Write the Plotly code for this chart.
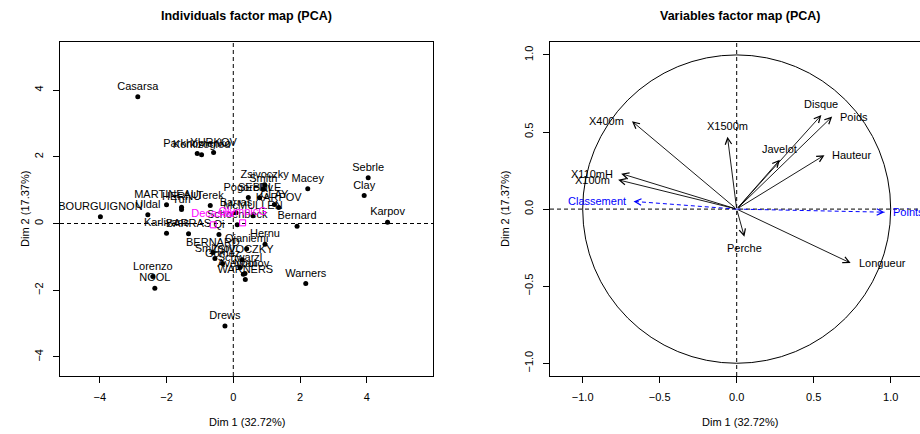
import plotly.graph_objects as go

# ---------------- data ----------------
ind_names = ["SEBRLE", "CLAY", "KARPOV", "BERNARD", "YURKOV", "WARNERS", "ZSIVOCZKY",
             "McMULLEN", "MARTINEAU", "HERNU", "BARRAS", "NOOL", "BOURGUIGNON",
             "Sebrle", "Clay", "Karpov", "Macey", "Warners", "Zsivoczky", "Hernu",
             "Nool", "Bernard", "Schwarzl", "Pogorelov", "Schoenbeck", "Barras", "Smith",
             "Averyanov", "Ojaniemi", "Smirnov", "Qi", "Drews", "Parkhomenko", "Terek",
             "Gomez", "Turi", "Lorenzo", "Karlivans", "Korkizoglou", "Uldal", "Casarsa"]
ind_dim1 = [0.79, 1.23, 1.36, -0.61, -0.59, 0.36, 0.27,
            0.59, -2.00, -1.55, -1.34, -2.35, -3.98,
            4.04, 3.92, 4.62, 2.23, 2.17, 0.94, 0.95,
            0.35, 1.91, 0.20, 0.45, 0.12, 0.08, 0.90,
            0.30, 0.40, -0.55, -0.43, -0.25, -1.08, -0.69,
            -0.32, -1.55, -2.41, -2.00, -0.95, -2.56, -2.86]
ind_dim2 = [0.77, 0.57, 0.48, -0.87, 2.13, -1.68, -1.09,
            0.23, 0.56, 0.49, -0.31, -1.94, 0.20,
            1.37, 0.84, 0.04, 1.04, -1.80, 1.16, -0.62,
            -1.50, -0.08, -1.32, 0.78, -0.04, 0.32, 1.03,
            -1.52, -0.76, -1.05, -0.33, -3.07, 2.10, 0.54,
            -1.20, 0.42, -1.59, -0.29, 2.06, 0.26, 3.80]

quali_names = ["Decastar", "OlympicG"]
quali_dim1 = [-0.60, 0.28]
quali_dim2 = [-0.04, 0.02]

var_names = ["X100m", "Longueur", "Poids", "Hauteur", "X400m", "X110mH",
             "Disque", "Perche", "Javelot", "X1500m"]
var_dim1 = [-0.77, 0.74, 0.62, 0.57, -0.68, -0.75, 0.55, 0.05, 0.28, -0.06]
var_dim2 = [0.19, -0.35, 0.60, 0.35, 0.57, 0.23, 0.61, -0.18, 0.32, 0.47]

sup_names = ["Classement", "Points"]
sup_dim1 = [-0.67, 0.96]
sup_dim2 = [0.05, -0.02]

x_ticks_ind = [-4, -2, 0, 2, 4]
y_ticks_ind = [-4, -2, 0, 2, 4]
ticks_var = [-1.0, -0.5, 0.0, 0.5, 1.0]

titles = ["Individuals factor map (PCA)", "Variables factor map (PCA)"]
xlab = "Dim 1 (32.72%)"
ylab = "Dim 2 (17.37%)"

# ---------------- layout helpers ----------------
W, H = 920, 434
FONT = "Liberation Sans, Arial, Helvetica, sans-serif"


def fx(p):
    return p / W


def fy(p):
    return 1 - p / H


def tick_text(vals, fmt):
    return [fmt.format(v).replace("-", "\u2212") for v in vals]


fig = go.Figure()

# individuals
fig.add_trace(go.Scatter(
    x=ind_dim1, y=ind_dim2, text=ind_names, mode="markers+text",
    textposition="top center",
    marker=dict(color="black", size=5),
    textfont=dict(family=FONT, size=11, color="black"),
    xaxis="x", yaxis="y", showlegend=False, hoverinfo="skip"))

# qualitative supplementary
fig.add_trace(go.Scatter(
    x=quali_dim1, y=quali_dim2, text=quali_names, mode="markers+text",
    textposition="top center",
    marker=dict(color="#FF00FF", size=6, symbol="square-open", line=dict(width=1, color="#FF00FF")),
    textfont=dict(family=FONT, size=11, color="#FF00FF"),
    xaxis="x", yaxis="y", showlegend=False, hoverinfo="skip"))

# supplementary variable dashed shafts
for n, x, y in zip(sup_names, sup_dim1, sup_dim2):
    fig.add_trace(go.Scatter(
        x=[0, x], y=[0, y], mode="lines",
        line=dict(color="#0000FF", width=1, dash="4px,3px"),
        xaxis="x2", yaxis="y2", showlegend=False, hoverinfo="skip"))

annotations = []
shapes = []

# active variable arrows
for n, x, y in zip(var_names, var_dim1, var_dim2):
    annotations.append(dict(
        x=x, y=y, ax=0, ay=0, xref="x2", yref="y2", axref="x2", ayref="y2",
        text="", showarrow=True, arrowhead=5, arrowsize=1.4, arrowwidth=0.9,
        arrowcolor="black", standoff=0, startstandoff=0))

# supplementary arrow heads
for n, x, y in zip(sup_names, sup_dim1, sup_dim2):
    annotations.append(dict(
        x=x, y=y, ax=x * 0.96, ay=y * 0.96, xref="x2", yref="y2", axref="x2", ayref="y2",
        text="", showarrow=True, arrowhead=5, arrowsize=1.4, arrowwidth=0.9,
        arrowcolor="#0000FF", standoff=0, startstandoff=0))


def var_label(n, x, y, color):
    d = dict(x=x, y=y, xref="x2", yref="y2", text=n, showarrow=False,
             font=dict(family=FONT, size=11, color=color))
    if abs(x) >= abs(y):
        if x < 0:
            d.update(xanchor="right", yanchor="middle", xshift=-6)
        else:
            d.update(xanchor="left", yanchor="middle", xshift=6)
    else:
        if y > 0:
            d.update(xanchor="center", yanchor="bottom", yshift=3)
        else:
            d.update(xanchor="center", yanchor="top", yshift=-3)
    return d


for n, x, y in zip(var_names, var_dim1, var_dim2):
    annotations.append(var_label(n, x, y, "black"))
for n, x, y in zip(sup_names, sup_dim1, sup_dim2):
    annotations.append(var_label(n, x, y, "#0000FF"))

# titles and axis labels
left_cx = fx((60 + 433.3) / 2)
right_cx = fx(740)
annotations += [
    dict(x=left_cx, y=fy(16), xref="paper", yref="paper", text="<b>%s</b>" % titles[0],
         showarrow=False, xanchor="center", yanchor="middle",
         font=dict(family=FONT, size=12.5, color="black")),
    dict(x=right_cx, y=fy(16), xref="paper", yref="paper", text="<b>%s</b>" % titles[1],
         showarrow=False, xanchor="center", yanchor="middle",
         font=dict(family=FONT, size=12.5, color="black")),
    dict(x=left_cx, y=fy(422), xref="paper", yref="paper", text=xlab,
         showarrow=False, xanchor="center", yanchor="middle",
         font=dict(family=FONT, size=11, color="black")),
    dict(x=right_cx, y=fy(422), xref="paper", yref="paper", text=xlab,
         showarrow=False, xanchor="center", yanchor="middle",
         font=dict(family=FONT, size=11, color="black")),
    dict(x=fx(25), y=fy(209), xref="paper", yref="paper", text=ylab, textangle=-90,
         showarrow=False, xanchor="center", yanchor="middle",
         font=dict(family=FONT, size=11, color="black")),
    dict(x=fx(505), y=fy(209), xref="paper", yref="paper", text=ylab, textangle=-90,
         showarrow=False, xanchor="center", yanchor="middle",
         font=dict(family=FONT, size=11, color="black")),
]

dash_line = dict(color="black", width=1, dash="4px,3px")
for xa, ya in (("x", "y"), ("x2", "y2")):
    shapes.append(dict(type="line", xref=xa + " domain", yref=ya, x0=0, x1=1, y0=0, y1=0,
                       line=dash_line, layer="below"))
    shapes.append(dict(type="line", xref=xa, yref=ya + " domain", x0=0, x1=0, y0=0, y1=1,
                       line=dash_line, layer="below"))

# correlation circle
shapes.append(dict(type="circle", xref="x2", yref="y2", x0=-1, x1=1, y0=-1, y1=1,
                   line=dict(color="black", width=1), layer="below"))

ydom = [fy(376), fy(42.3)]
axis_common = dict(showgrid=False, zeroline=False, showline=True, linecolor="black",
                   linewidth=1, ticks="outside", ticklen=6, tickwidth=1, tickcolor="black",
                   tickfont=dict(family=FONT, size=11, color="black"))

fig.update_layout(
    width=W, height=H, margin=dict(l=0, r=0, t=0, b=0),
    paper_bgcolor="white", plot_bgcolor="white",
    xaxis=dict(domain=[fx(60), fx(433.3)], range=[-5.19, 5.99], mirror=True,
               tickvals=x_ticks_ind, ticktext=tick_text(x_ticks_ind, "{:d}"),
               ticklabelstandoff=5, anchor="y", **axis_common),
    yaxis=dict(domain=ydom, range=[-4.57, 5.43], mirror=True,
               tickvals=y_ticks_ind, ticktext=tick_text(y_ticks_ind, "{:d}"),
               tickangle=-90, ticklabelstandoff=6, anchor="x", **axis_common),
    xaxis2=dict(domain=[fx(550), 1.0], range=[-1.2123, 1.1903], mirror=True,
                tickvals=ticks_var, ticktext=tick_text(ticks_var, "{:.1f}"),
                ticklabelstandoff=5, anchor="y2", **axis_common),
    yaxis2=dict(domain=ydom, range=[-1.0825, 1.0818], mirror=False,
                tickvals=ticks_var, ticktext=tick_text(ticks_var, "{:.1f}"),
                tickangle=-90, ticklabelstandoff=6, anchor="x2", **axis_common),
    annotations=annotations, shapes=shapes,
)

fig.write_html("out.html")
